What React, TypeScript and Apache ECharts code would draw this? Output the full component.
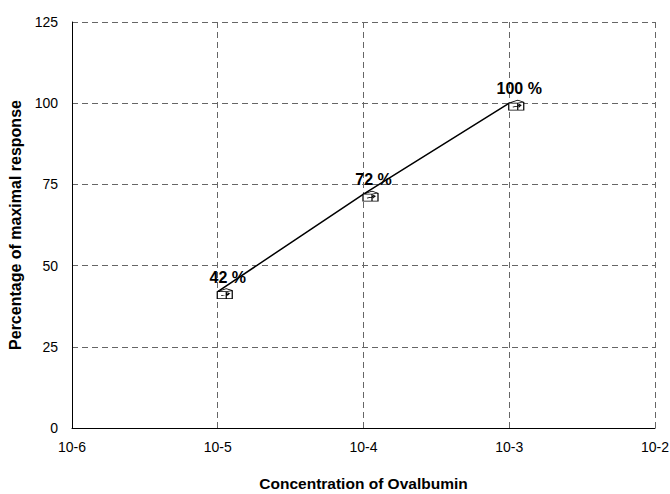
import React, { useEffect, useRef } from "react";
import * as echarts from "echarts";

const concentrations = [1e-5, 1e-4, 1e-3];
const responses = [42, 72, 100];
const responseLabels = ["42 %", "72 %", "100 %"];
const yTicks = [0, 25, 50, 75, 100, 125];

const markerPath =
  "path://M0,3 L9,0 L15,2 L15,10 L0,10 Z M0,3 L9,3 L15,2 M9,3 L9,10 M4,7 L12,5 L10,4 M12,5 L10,7";

export default function App() {
  const ref = useRef<HTMLDivElement>(null);
  useEffect(() => {
    if (!ref.current) return;
    const chart = echarts.init(ref.current, null, { renderer: "svg" });
    const font = "'Liberation Sans', Arial, sans-serif";
    chart.setOption({
      animation: false,
      backgroundColor: "#ffffff",
      grid: {
        left: 72,
        right: 15,
        top: 22,
        bottom: 66,
        containLabel: false,
        outerBoundsMode: "none",
      },
      xAxis: {
        type: "log",
        logBase: 10,
        min: 1e-6,
        max: 1e-2,
        name: "Concentration of Ovalbumin",
        nameLocation: "middle",
        nameGap: 47,
        nameTextStyle: { fontFamily: font, fontWeight: "bold", fontSize: 15.5, color: "#000" },
        axisLine: { show: true, lineStyle: { color: "#000", width: 1 } },
        axisTick: { show: false },
        axisLabel: {
          fontFamily: font,
          fontSize: 14,
          color: "#000",
          margin: 12,
          formatter: (v: number) => "10" + Math.round(Math.log10(v)),
        },
        splitLine: { show: true, lineStyle: { color: "#666", type: [6, 4], width: 1 } },
      },
      yAxis: {
        type: "value",
        min: yTicks[0],
        max: yTicks[yTicks.length - 1],
        interval: 25,
        name: "Percentage of maximal response",
        nameLocation: "middle",
        nameGap: 43,
        nameTextStyle: { fontFamily: font, fontWeight: "bold", fontSize: 16, color: "#000" },
        axisLine: { show: true, lineStyle: { color: "#000", width: 1 } },
        axisTick: { show: false },
        axisLabel: { fontFamily: font, fontSize: 14, color: "#000", margin: 14 },
        splitLine: { show: true, lineStyle: { color: "#666", type: [6, 4], width: 1 } },
      },
      series: [
        {
          type: "line",
          data: concentrations.map((c, i) => [c, responses[i]]),
          lineStyle: { color: "#000", width: 1.5 },
          symbol: markerPath,
          symbolSize: [15, 10],
          symbolOffset: [7, 2],
          itemStyle: { color: "#fff", borderColor: "#000", borderWidth: 1 },
          label: {
            show: true,
            position: "top",
            offset: [3, 2],
            fontFamily: font,
            fontWeight: "bold",
            fontSize: 16,
            color: "#000",
            formatter: (p: any) => responseLabels[p.dataIndex],
          },
          z: 3,
        },
      ],
    });
    return () => chart.dispose();
  }, []);
  return (
    <div
      ref={ref}
      style={{ position: "fixed", left: 0, top: 0, width: 670, height: 494 }}
    />
  );
}
